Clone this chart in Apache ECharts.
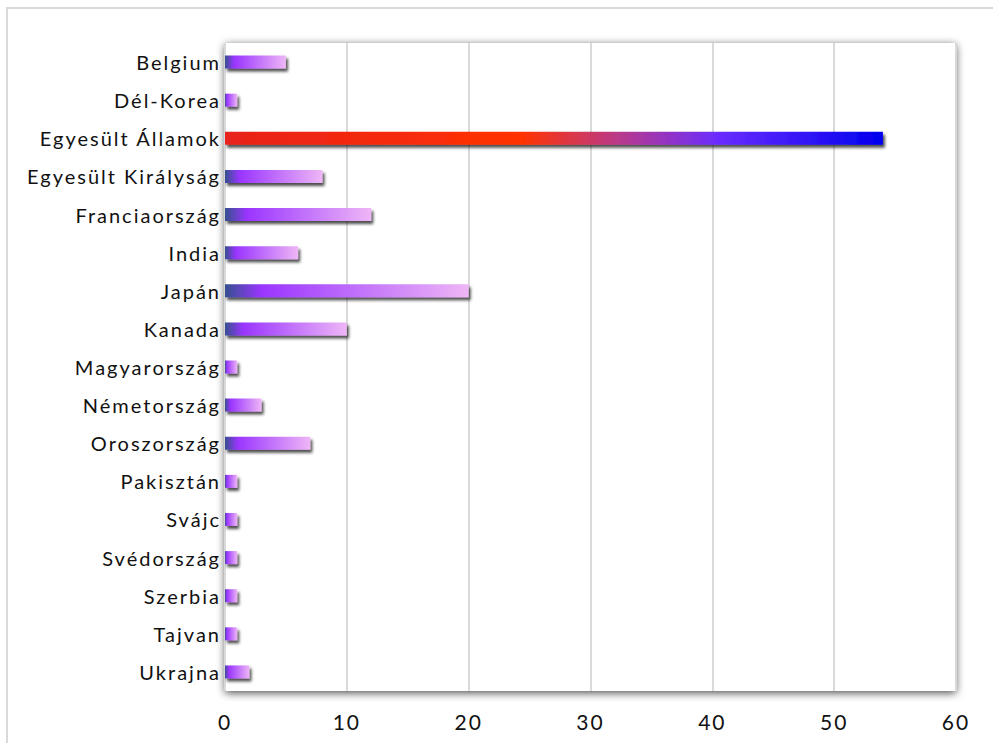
<!DOCTYPE html>
<html>
<head>
<meta charset="utf-8">
<script src="https://cdn.jsdelivr.net/npm/echarts@6/dist/echarts.min.js"></script>
<style>
  html, body { margin: 0; padding: 0; background: #fff; }
  #chart1 { width: 993px; height: 743px; }
  /* the original labels are drawn with wide letter spacing */
  #chart1 text { letter-spacing: 2px; }
</style>
</head>
<body>
<div id="chart1"></div>
<script>
var countries = ['Belgium', 'Dél-Korea', 'Egyesült Államok', 'Egyesült Királyság', 'Franciaország',
  'India', 'Japán', 'Kanada', 'Magyarország', 'Németország', 'Oroszország', 'Pakisztán',
  'Svájc', 'Svédország', 'Szerbia', 'Tajvan', 'Ukrajna'];
var counts = [5, 1, 54, 8, 12, 6, 20, 10, 1, 3, 7, 1, 1, 1, 1, 1, 2];
var xTicks = [0, 10, 20, 30, 40, 50, 60];
var highlight = 'Egyesült Államok';

var chartDom = document.getElementById('chart1');
var myChart = echarts.init(chartDom, null, { renderer: 'svg' });
var option;

var purpleBar = new echarts.graphic.LinearGradient(0, 0, 1, 0, [
  { offset: 0, color: '#35508f' },
  { offset: 0.15, color: '#9a35ff' },
  { offset: 1, color: '#eeb6f6' }
]);
var redBlueBar = new echarts.graphic.LinearGradient(0, 0, 1, 0, [
  { offset: 0, color: '#e8211b' },
  { offset: 0.45, color: '#ff3300' },
  { offset: 0.6, color: '#b83a8c' },
  { offset: 0.75, color: '#6a2cff' },
  { offset: 1, color: '#0000ee' }
]);

var barData = counts.map(function (v, i) {
  return {
    value: v,
    itemStyle: { color: countries[i] === highlight ? redBlueBar : purpleBar }
  };
});

option = {
  animation: false,
  backgroundColor: '#fff',
  graphic: [
    {
      type: 'rect',
      shape: { x: 7, y: 8, width: 1000, height: 760 },
      style: { fill: 'none', stroke: '#d9d9d9', lineWidth: 2 },
      silent: true,
      z: -10
    }
  ],
  grid: {
    show: true,
    left: 225,
    right: 37,
    top: 43,
    bottom: 52,
    backgroundColor: '#fff',
    borderWidth: 0,
    shadowColor: 'rgba(0,0,0,0.7)',
    shadowBlur: 9,
    shadowOffsetX: 0,
    shadowOffsetY: 2
  },
  xAxis: {
    type: 'value',
    min: xTicks[0],
    max: xTicks[xTicks.length - 1],
    interval: 10,
    axisLine: { show: false },
    axisTick: { show: false },
    splitLine: { show: true, lineStyle: { color: '#d9d9d9', width: 2 } },
    axisLabel: {
      margin: 20,
      color: '#111',
      fontFamily: 'Lato',
      fontSize: 21
    }
  },
  yAxis: {
    type: 'category',
    data: countries,
    inverse: true,
    axisLine: { show: false },
    axisTick: { show: false },
    axisLabel: {
      margin: 4,
      color: '#111',
      fontFamily: 'Lato',
      fontSize: 20
    }
  },
  series: [
    {
      type: 'bar',
      data: barData,
      barWidth: 13,
      itemStyle: {
        shadowColor: 'rgba(0,0,0,0.7)',
        shadowBlur: 3,
        shadowOffsetX: 2,
        shadowOffsetY: 3
      }
    }
  ]
};

option && myChart.setOption(option);
</script>
</body>
</html>
